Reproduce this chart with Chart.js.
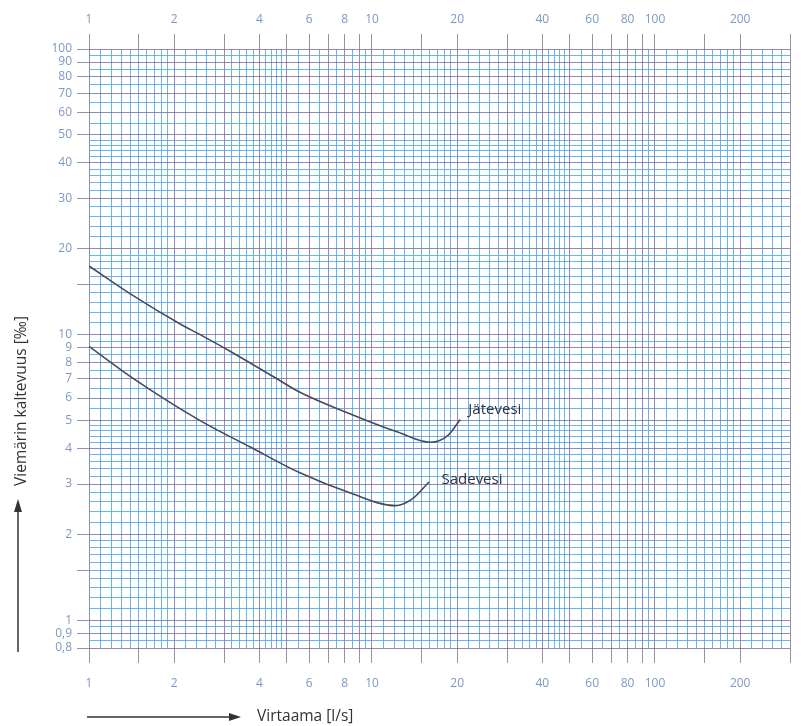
<!DOCTYPE html>
<html>
<head>
<meta charset="utf-8">
<script src="https://cdn.jsdelivr.net/npm/chart.js@4"></script>
<style>
  body { margin: 0; background: #fff; }
  #wrap { width: 803px; height: 726px; position: relative; }
</style>
</head>
<body>
<div id="wrap"><canvas id="chart"></canvas></div>
<script>
// curve data (flow l/s, slope per mille)
const flowJ = [1.0, 1.4, 2.1, 2.47, 3.15, 4.46, 5.54, 8.3, 12.4, 16.1, 18.6, 20.5];
const slopeJ = [17.4, 13.9, 10.9, 10.0, 8.75, 7.15, 6.3, 5.3, 4.55, 4.2, 4.45, 5.05];
const flowS = [1.0, 1.44, 2.47, 3.7, 5.54, 8.3, 12.1, 13.8, 15.9];
const slopeS = [9.1, 7.0, 5.0, 4.05, 3.29, 2.8, 2.52, 2.65, 3.05];

// axis ticks
const xTickLabels = [1, 2, 4, 6, 8, 10, 20, 40, 60, 80, 100, 200];
const xTickMarks = [1, 1.5, 2, 3, 4, 5, 6, 7, 8, 9, 10, 15, 20, 30, 40, 50, 60, 70, 80, 90, 100, 150, 200, 300];
const yTickLabels = [100, 90, 80, 70, 60, 50, 40, 30, 20, 10, 9, 8, 7, 6, 5, 4, 3, 2, 1, 0.9, 0.8];
const yTickMarks = [0.8, 0.9, 1, 1.5, 2, 3, 4, 5, 6, 7, 8, 9, 10, 15, 20, 30, 40, 50, 60, 70, 80, 90, 100];

// curve names and where their labels sit (data coords)
const seriesNames = ['Jätevesi', 'Sadevesi'];
const nameAt = [[21.9, 5.44], [17.6, 3.11]];

// log paper lines: 1-2 by 0.1, 2-5 by 0.2, 5-10 by 0.5 in each decade
function logPaper(min, max) {
  const out = [];
  [0.1, 1, 10, 100].forEach(d => {
    [[1, 2, 0.1], [2, 5, 0.2], [5, 10, 0.5]].forEach(([a, b, s]) => {
      for (let m = a; m < b - 1e-9; m += s) {
        const v = Math.round(m * d * 10000) / 10000;
        if (v >= min - 1e-9 && v <= max + 1e-9) out.push(v);
      }
    });
  });
  if (!out.includes(max)) out.push(max);
  return out;
}

const near = (list, v) => list.some(t => Math.abs(t - v) < 1e-6);
const isMain = v => {
  const m = v / Math.pow(10, Math.floor(Math.log10(v) + 1e-9));
  return Math.abs(m - Math.round(m)) < 1e-6;
};
const gridColor = c => isMain(c.tick.value) ? 'rgba(120,110,160,0.8)' : 'rgba(85,165,235,0.85)';
const tickFont = { family: 'Open Sans', size: 12 };
const tickText = '#7d98c3';

const labelsPlugin = {
  id: 'extras',
  afterDraw(chart) {
    const ctx = chart.ctx;
    const x = chart.scales.x, y = chart.scales.y;
    const a = chart.chartArea;
    ctx.save();
    ctx.fillStyle = '#333';
    ctx.font = '15px "Open Sans"';
    ctx.textBaseline = 'middle';
    seriesNames.forEach((n, i) => {
      ctx.fillText(n, x.getPixelForValue(nameAt[i][0]), y.getPixelForValue(nameAt[i][1]));
    });

    // y axis title with arrow
    ctx.strokeStyle = '#333';
    ctx.fillStyle = '#333';
    ctx.lineWidth = 1.5;
    const ax = a.left - 71;
    ctx.beginPath();
    ctx.moveTo(ax, a.bottom + 4);
    ctx.lineTo(ax, 510);
    ctx.stroke();
    ctx.beginPath();
    ctx.moveTo(ax, 499);
    ctx.lineTo(ax - 4, 512);
    ctx.lineTo(ax + 4, 512);
    ctx.closePath();
    ctx.fill();
    ctx.save();
    ctx.translate(ax + 4, 401);
    ctx.rotate(-Math.PI / 2);
    ctx.textAlign = 'center';
    ctx.font = '15.5px "Open Sans"';
    ctx.fillText('Viemärin kaltevuus [‰]', 0, 0);
    ctx.restore();

    // x axis title with arrow
    const ay = 717;
    ctx.beginPath();
    ctx.moveTo(a.left - 2, ay);
    ctx.lineTo(231, ay);
    ctx.stroke();
    ctx.beginPath();
    ctx.moveTo(241, ay);
    ctx.lineTo(229, ay - 4);
    ctx.lineTo(229, ay + 4);
    ctx.closePath();
    ctx.fill();
    ctx.font = '15.5px "Open Sans"';
    ctx.textAlign = 'left';
    ctx.fillText('Virtaama [l/s]', 257, ay);
    ctx.restore();
  }
};

const ctx = document.getElementById('chart').getContext('2d');
new Chart(ctx, {
  type: 'line',
  data: {
    datasets: [
      {
        label: seriesNames[0],
        data: flowJ.map((f, i) => ({ x: f, y: slopeJ[i] })),
        borderColor: '#4a4a55', borderWidth: 1.6, pointRadius: 0,
        cubicInterpolationMode: 'monotone', fill: false
      },
      {
        label: seriesNames[1],
        data: flowS.map((f, i) => ({ x: f, y: slopeS[i] })),
        borderColor: '#4a4a55', borderWidth: 1.6, pointRadius: 0,
        cubicInterpolationMode: 'monotone', fill: false
      }
    ]
  },
  options: {
    responsive: true,
    maintainAspectRatio: false,
    animation: false,
    layout: { padding: { left: 0, right: 8, top: 0, bottom: 0 } },
    plugins: { legend: { display: false }, tooltip: { enabled: false } },
    scales: {
      x: {
        type: 'logarithmic', position: 'bottom', min: 1, max: 300,
        afterBuildTicks: s => { s.ticks = logPaper(1, 300).map(v => ({ value: v })); },
        afterFit: s => { s.height = 78; },
        grid: {
          color: gridColor, lineWidth: 1, tickLength: 15,
          tickColor: c => near(xTickMarks, c.tick.value) ? 'rgba(120,120,140,0.8)' : 'rgba(0,0,0,0)'
        },
        border: { display: false },
        ticks: {
          autoSkip: false, maxRotation: 0, padding: 13, font: tickFont, color: tickText,
          callback: v => near(xTickLabels, v) ? String(v) : ''
        }
      },
      xTop: {
        type: 'logarithmic', position: 'top', min: 1, max: 300,
        afterBuildTicks: s => { s.ticks = xTickMarks.map(v => ({ value: v })); },
        afterFit: s => { s.height = 49; },
        grid: { drawOnChartArea: false, tickLength: 15, color: 'rgba(120,120,140,0.8)' },
        border: { display: false },
        ticks: {
          autoSkip: false, maxRotation: 0, padding: 7, font: tickFont, color: tickText,
          callback: v => near(xTickLabels, v) ? String(v) : ''
        }
      },
      y: {
        type: 'logarithmic', position: 'left', min: 0.8, max: 100,
        afterBuildTicks: s => { s.ticks = logPaper(0.8, 100).map(v => ({ value: v })); },
        afterFit: s => { s.width = 89; },
        grid: {
          color: gridColor, lineWidth: 1, tickLength: 12,
          tickColor: c => near(yTickMarks, c.tick.value) ? 'rgba(120,120,140,0.8)' : 'rgba(0,0,0,0)'
        },
        border: { display: false },
        ticks: {
          autoSkip: false, padding: 5, font: tickFont, color: tickText,
          callback: v => near(yTickLabels, v) ? String(v).replace('.', ',') : ''
        }
      }
    }
  },
  plugins: [labelsPlugin]
});
</script>
</body>
</html>
